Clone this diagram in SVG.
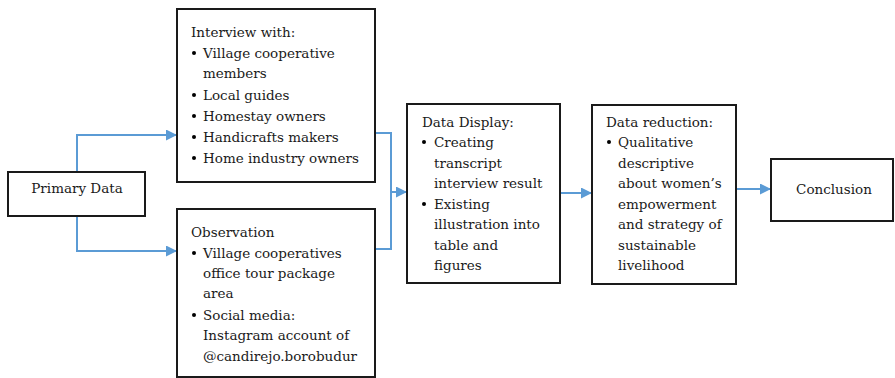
<svg xmlns="http://www.w3.org/2000/svg" width="895" height="378" viewBox="0 0 895 378">
<defs>
<style>
.box{fill:#fff;stroke:#1a1a1a;stroke-width:2}
text{font-family:"DejaVu Serif","Liberation Serif",serif;font-size:13.5px;fill:#1a1a1a}
.c{stroke:#5b9bd5;stroke-width:2;fill:none}
.b{fill:#000}
</style>
<marker id="ah" viewBox="0 0 10 10" refX="10" refY="5" markerWidth="5.5" markerHeight="5.5" orient="auto" markerUnits="strokeWidth">
<path d="M0,0L10,5L0,10z" fill="#5b9bd5"/>
</marker>
</defs>
<g id="connectors">
<path class="c" d="M77,172V135H177" marker-end="url(#ah)"/>
<path class="c" d="M77,216V251H177" marker-end="url(#ah)"/>
<path class="c" d="M375,133H391V192H407" marker-end="url(#ah)"/>
<path class="c" d="M375,249H391V192"/>
<path class="c" d="M560,193H592" marker-end="url(#ah)"/>
<path class="c" d="M736,189H771" marker-end="url(#ah)"/>
</g>
<g id="primary">
<rect class="box" x="8" y="172" width="137" height="44"/>
<text x="77" y="193" text-anchor="middle">Primary Data</text>
</g>
<g id="interview">
<rect class="box" x="177" y="9" width="198" height="173"/>
<text x="191" y="37">Interview with:</text>
<circle class="b" cx="194" cy="53" r="2"/>
<text x="203" y="58">Village cooperative</text>
<text x="203" y="78">members</text>
<circle class="b" cx="194" cy="95" r="2"/>
<text x="203" y="100">Local guides</text>
<circle class="b" cx="194" cy="116" r="2"/>
<text x="203" y="121">Homestay owners</text>
<circle class="b" cx="194" cy="137" r="2"/>
<text x="203" y="142">Handicrafts makers</text>
<circle class="b" cx="194" cy="158" r="2"/>
<text x="203" y="163">Home industry owners</text>
</g>
<g id="observation">
<rect class="box" x="177" y="209" width="198" height="168"/>
<text x="191" y="237">Observation</text>
<circle class="b" cx="194" cy="253" r="2"/>
<text x="203" y="258">Village cooperatives</text>
<text x="203" y="278">office tour package</text>
<text x="203" y="298">area</text>
<circle class="b" cx="194" cy="315" r="2"/>
<text x="203" y="320">Social media:</text>
<text x="203" y="340">Instagram account of</text>
<text x="203" y="361">@candirejo.borobudur</text>
</g>
<g id="display">
<rect class="box" x="407" y="104" width="153" height="179"/>
<text x="422" y="127">Data Display:</text>
<circle class="b" cx="424" cy="142" r="2"/>
<text x="434" y="147">Creating</text>
<text x="434" y="168">transcript</text>
<text x="434" y="188">interview result</text>
<circle class="b" cx="424" cy="204" r="2"/>
<text x="434" y="209">Existing</text>
<text x="434" y="229">illustration into</text>
<text x="434" y="250">table and</text>
<text x="434" y="270">figures</text>
</g>
<g id="reduction">
<rect class="box" x="592" y="105" width="144" height="179"/>
<text x="606" y="127">Data reduction:</text>
<circle class="b" cx="609" cy="142" r="2"/>
<text x="618" y="147">Qualitative</text>
<text x="618" y="168">descriptive</text>
<text x="618" y="188">about women’s</text>
<text x="618" y="209">empowerment</text>
<text x="618" y="229">and strategy of</text>
<text x="618" y="250">sustainable</text>
<text x="618" y="270">livelihood</text>
</g>
<g id="conclusion">
<rect class="box" x="771" y="159" width="122" height="62"/>
<text x="834" y="194" text-anchor="middle">Conclusion</text>
</g>
</svg>
